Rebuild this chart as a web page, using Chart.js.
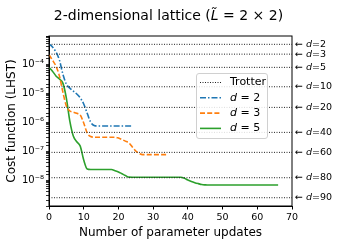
<!DOCTYPE html>
<html>
<head>
<meta charset="utf-8">
<script src="https://cdn.jsdelivr.net/npm/chart.js@4/dist/chart.umd.min.js"></script>
<style>
  html, body { margin: 0; padding: 0; background: #fff; }
  #wrap { width: 339px; height: 242px; }
</style>
</head>
<body>
<div id="wrap"><canvas id="chart"></canvas></div>
<script>
// Trotter reference levels (dotted lines) and their labels on the right.
const trotterD = [2, 3, 5, 10, 20, 40, 60, 80, 90];
const trotterCost = [4.8e-4, 2.2e-4, 7.7e-5, 1.65e-5, 3.2e-6, 4.4e-7, 9.0e-8, 1.2e-8, 2.45e-9];

// Cost per parameter update, index = number of updates.
const costD2 = [
  4.9e-4, 3.9e-4, 2.6e-4, 1.37e-4, 4.5e-5, 2.04e-5, 1.48e-5, 1.17e-5, 9.3e-6, 6.8e-6,
  4.2e-6, 2.0e-6, 1.0e-6, 7.6e-7, 7.3e-7, 7.3e-7, 7.3e-7, 7.3e-7, 7.3e-7, 7.3e-7,
  7.3e-7, 7.3e-7, 7.3e-7, 7.3e-7, 7.3e-7,
];
const costD3 = [
  2.1e-4, 1.37e-4, 8.5e-5, 3.9e-5, 1.08e-5, 3.6e-6, 2.4e-6, 2.2e-6, 2.0e-6, 1.74e-6,
  9.3e-7, 4.2e-7, 3.16e-7, 3.0e-7, 3.0e-7, 3.0e-7, 3.0e-7, 3.0e-7, 3.0e-7, 3.0e-7,
  2.8e-7, 2.5e-7, 2.2e-7, 1.9e-7, 1.38e-7, 1.0e-7, 8.2e-8, 7.5e-8, 7.5e-8, 7.5e-8,
  7.5e-8, 7.5e-8, 7.5e-8, 7.5e-8, 7.5e-8,
];
const costD5 = [
  7.6e-5, 5.7e-5, 3.9e-5, 3.05e-5, 2.2e-5, 6.7e-6, 1.08e-6, 3.3e-7, 2.1e-7, 1.48e-7,
  4.9e-8, 2.4e-8, 2.3e-8, 2.3e-8, 2.3e-8, 2.3e-8, 2.3e-8, 2.3e-8, 2.3e-8, 2.1e-8,
  1.9e-8, 1.65e-8, 1.43e-8, 1.26e-8, 1.25e-8, 1.25e-8, 1.25e-8, 1.25e-8, 1.25e-8, 1.25e-8,
  1.25e-8, 1.25e-8, 1.25e-8, 1.25e-8, 1.25e-8, 1.25e-8, 1.25e-8, 1.25e-8, 1.25e-8, 1.15e-8,
  1.0e-8, 8.9e-9, 8.1e-9, 7.5e-9, 7.0e-9, 6.8e-9, 6.7e-9, 6.7e-9, 6.7e-9, 6.7e-9,
  6.7e-9, 6.7e-9, 6.7e-9, 6.7e-9, 6.7e-9, 6.7e-9, 6.7e-9, 6.7e-9, 6.7e-9, 6.7e-9,
  6.7e-9, 6.7e-9, 6.7e-9, 6.7e-9, 6.7e-9, 6.7e-9, 6.7e-9,
];

const xTicks = [0, 10, 20, 30, 40, 50, 60, 70];
const FONT = "'DejaVu Sans', sans-serif";
const SUP = { "-": "⁻", "0": "⁰", "1": "¹", "2": "²", "3": "³", "4": "⁴", "5": "⁵", "6": "⁶", "7": "⁷", "8": "⁸", "9": "⁹" };

function toPoints(values) {
  return values.map((v, i) => ({ x: i, y: v }));
}

const trotterSets = trotterCost.map((c) => ({
  label: "Trotter",
  data: [{ x: 0, y: c }, { x: 70, y: c }],
  borderColor: "#222",
  borderWidth: 1,
  borderDash: [1, 1.5],
  pointRadius: 0,
}));

const series = [
  { label: "d = 2", data: toPoints(costD2), borderColor: "#1f77b4", borderDash: [6, 2, 1.5, 2] },
  { label: "d = 3", data: toPoints(costD3), borderColor: "#ff7f0e", borderDash: [5, 2.2] },
  { label: "d = 5", data: toPoints(costD5), borderColor: "#2ca02c", borderDash: [] },
].map((s) => ({ ...s, borderWidth: 1.6, pointRadius: 0, cubicInterpolationMode: "monotone" }));

// Draw text pieces in a row, with an italic "d" or "L̃" where needed.
function drawParts(ctx, parts, x, y, size, align) {
  const widths = parts.map((p) => {
    ctx.font = (p.italic ? "italic " : "") + size + "px " + FONT;
    return ctx.measureText(p.text).width;
  });
  const total = widths.reduce((a, b) => a + b, 0);
  let cx = align === "center" ? x - total / 2 : x;
  ctx.textAlign = "left";
  ctx.textBaseline = "middle";
  parts.forEach((p, i) => {
    ctx.font = (p.italic ? "italic " : "") + size + "px " + FONT;
    ctx.fillText(p.text, cx, y);
    cx += widths[i];
  });
}

const decorations = {
  id: "decorations",
  afterDraw(chart) {
    const { ctx, chartArea: a, scales } = chart;
    ctx.save();
    ctx.fillStyle = "#000";

    // frame
    ctx.strokeStyle = "#000";
    ctx.lineWidth = 1;
    ctx.strokeRect(a.left, a.top, a.right - a.left, a.bottom - a.top);

    // title
    drawParts(ctx, [
      { text: "2-dimensional lattice (" },
      { text: "L\u0303", italic: true },
      { text: " = 2 \u00d7 2)" },
    ], (a.left + a.right) / 2 - 2, 16, 14, "center");

    // right-side labels for the Trotter lines
    trotterD.forEach((d, i) => {
      const y = scales.y.getPixelForValue(trotterCost[i]);
      drawParts(ctx, [{ text: "\u2190 " }, { text: "d", italic: true }, { text: "=" + d }],
        a.right + 3, y, 9.5, "left");
    });

    // legend box
    const lx = a.left + 147, ly = a.top + 37, lw = 71, lh = 65;
    ctx.fillStyle = "rgba(255,255,255,0.85)";
    ctx.strokeStyle = "#d0d0d0";
    ctx.lineWidth = 1;
    ctx.beginPath();
    ctx.roundRect(lx + 0.5, ly + 0.5, lw, lh, 2.5);
    ctx.fill();
    ctx.stroke();

    const rows = [
      { color: "#222", dash: [1, 1.5], width: 1, parts: [{ text: "Trotter" }] },
      { color: "#1f77b4", dash: [6, 2, 1.5, 2], width: 1.6, parts: [{ text: "d", italic: true }, { text: " = 2" }] },
      { color: "#ff7f0e", dash: [5, 2.2], width: 1.6, parts: [{ text: "d", italic: true }, { text: " = 3" }] },
      { color: "#2ca02c", dash: [], width: 1.6, parts: [{ text: "d", italic: true }, { text: " = 5" }] },
    ];
    rows.forEach((r, i) => {
      const ry = ly + 9.5 + i * 15.3;
      ctx.strokeStyle = r.color;
      ctx.lineWidth = r.width;
      ctx.setLineDash(r.dash);
      ctx.beginPath();
      ctx.moveTo(lx + 4, ry);
      ctx.lineTo(lx + 25, ry);
      ctx.stroke();
      ctx.setLineDash([]);
      ctx.fillStyle = "#000";
      drawParts(ctx, r.parts, lx + 34, ry, 11, "left");
    });
    ctx.restore();
  },
};

new Chart(document.getElementById("chart"), {
  type: "line",
  data: { datasets: [...trotterSets, ...series] },
  options: {
    responsive: true,
    maintainAspectRatio: false,
    animation: false,
    layout: { padding: { top: 36, right: 47, left: 0, bottom: 0 } },
    plugins: {
      legend: { display: false },
      tooltip: { enabled: false },
    },
    scales: {
      x: {
        type: "linear",
        min: 0,
        max: 70,
        afterBuildTicks: (scale) => {
          scale.ticks = xTicks.map((v) => ({ value: v }));
        },
        afterFit: (scale) => {
          scale.height = 36;
        },
        grid: { display: true, drawOnChartArea: false, drawTicks: true, tickLength: 3.5, color: "#000" },
        border: { display: true, color: "#000" },
        ticks: { color: "#000", font: { family: FONT, size: 9.5 }, padding: 2, maxRotation: 0 },
        title: {
          display: true,
          text: "Number of parameter updates",
          color: "#000",
          font: { family: FONT, size: 12 },
          padding: { top: 0, bottom: 2 },
        },
      },
      y: {
        type: "logarithmic",
        min: 1.27e-9,
        max: 9.3e-4,
        afterFit: (scale) => {
          scale.width = 49;
        },
        grid: {
          display: true,
          drawOnChartArea: false,
          drawTicks: true,
          tickLength: 3,
          color: "#000",
          tickWidth: 0.8,
        },
        border: { display: true, color: "#000" },
        ticks: {
          autoSkip: false,
          color: "#000",
          padding: 2,
          font: { family: FONT, size: 10 },
          callback: (v) => {
            const e = Math.log10(v);
            if (Math.abs(e - Math.round(e)) > 1e-6) return "";
            return "10" + String(Math.round(e)).split("").map((c) => SUP[c]).join("");
          },
        },
        title: {
          display: true,
          text: "Cost function (LHST)",
          color: "#000",
          font: { family: FONT, size: 12 },
          padding: { top: 5, bottom: 0 },
        },
      },
    },
  },
  plugins: [decorations],
});
</script>
</body>
</html>
